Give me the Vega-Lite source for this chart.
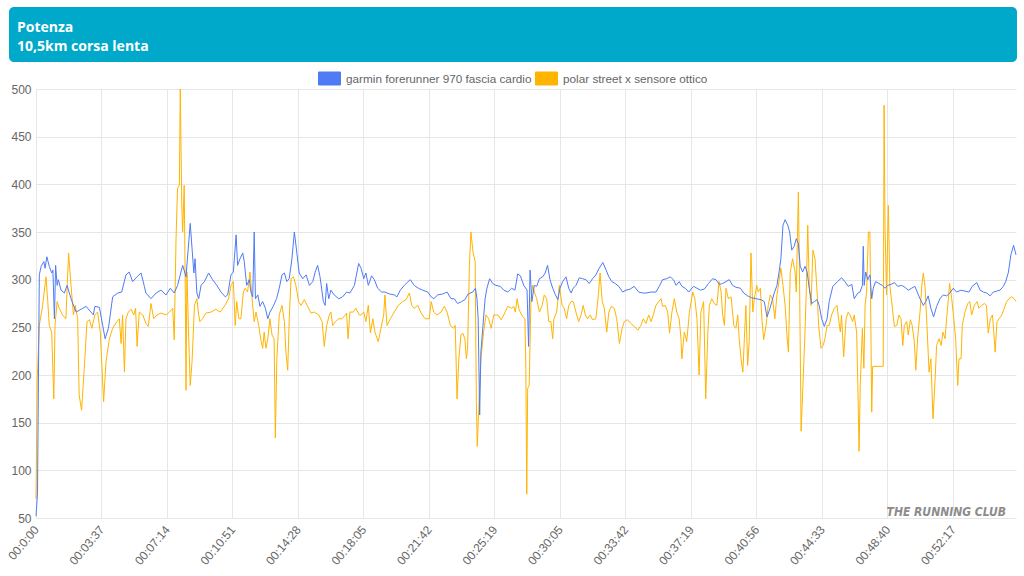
{
  "$schema": "https://vega.github.io/schema/vega-lite/v6.json",
  "background": "white",
  "padding": {"left": 5, "top": 7, "right": 0, "bottom": 0},
  "config": {
    "font": "Liberation Sans",
    "view": {"stroke": null},
    "axis": {"gridColor": "#e6e6e6", "gridWidth": 1, "domain": false, "ticks": false, "tickSize": 0, "labelFont": "Liberation Sans", "labelFontSize": 12, "labelColor": "#666666", "title": null},
    "line": {"strokeWidth": 1}
  },
  "datasets": {
    "garmin": [
{"t":0,"v":52},{"t":5,"v":76},{"t":11,"v":305},{"t":17,"v":314},{"t":26,"v":319},{"t":30,"v":312},{"t":36,"v":324},{"t":44,"v":314},{"t":52,"v":307},{"t":56,"v":310},{"t":61,"v":259},{"t":65,"v":315},{"t":70,"v":294},{"t":74,"v":300},{"t":83,"v":289},{"t":94,"v":286},{"t":103,"v":294},{"t":116,"v":280},{"t":133,"v":266},{"t":149,"v":269},{"t":166,"v":272},{"t":182,"v":266},{"t":190,"v":263},{"t":195,"v":272},{"t":210,"v":271},{"t":221,"v":252},{"t":229,"v":238},{"t":240,"v":249},{"t":254,"v":282},{"t":271,"v":286},{"t":284,"v":287},{"t":298,"v":305},{"t":309,"v":308},{"t":320,"v":298},{"t":335,"v":303},{"t":348,"v":307},{"t":359,"v":293},{"t":364,"v":286},{"t":381,"v":280},{"t":398,"v":286},{"t":414,"v":289},{"t":431,"v":284},{"t":445,"v":291},{"t":458,"v":286},{"t":469,"v":294},{"t":486,"v":315},{"t":497,"v":303},{"t":511,"v":359},{"t":523,"v":307},{"t":527,"v":322},{"t":533,"v":286},{"t":539,"v":280},{"t":547,"v":294},{"t":558,"v":298},{"t":572,"v":307},{"t":585,"v":300},{"t":599,"v":294},{"t":613,"v":287},{"t":627,"v":282},{"t":635,"v":284},{"t":646,"v":305},{"t":654,"v":308},{"t":663,"v":347},{"t":668,"v":315},{"t":676,"v":322},{"t":685,"v":328},{"t":690,"v":319},{"t":698,"v":294},{"t":707,"v":300},{"t":712,"v":287},{"t":718,"v":282},{"t":723,"v":350},{"t":727,"v":280},{"t":735,"v":284},{"t":742,"v":272},{"t":751,"v":277},{"t":760,"v":270},{"t":768,"v":259},{"t":775,"v":266},{"t":786,"v":272},{"t":797,"v":280},{"t":806,"v":291},{"t":815,"v":305},{"t":823,"v":307},{"t":831,"v":298},{"t":839,"v":301},{"t":848,"v":322},{"t":856,"v":350},{"t":864,"v":329},{"t":872,"v":307},{"t":884,"v":301},{"t":895,"v":305},{"t":906,"v":294},{"t":917,"v":298},{"t":925,"v":308},{"t":933,"v":315},{"t":941,"v":303},{"t":948,"v":287},{"t":952,"v":277},{"t":958,"v":273},{"t":963,"v":296},{"t":970,"v":280},{"t":977,"v":289},{"t":988,"v":284},{"t":1003,"v":280},{"t":1016,"v":282},{"t":1029,"v":287},{"t":1040,"v":286},{"t":1055,"v":294},{"t":1069,"v":317},{"t":1077,"v":312},{"t":1086,"v":301},{"t":1093,"v":307},{"t":1101,"v":294},{"t":1112,"v":304},{"t":1121,"v":300},{"t":1132,"v":291},{"t":1145,"v":287},{"t":1156,"v":287},{"t":1171,"v":285},{"t":1187,"v":284},{"t":1196,"v":282},{"t":1207,"v":289},{"t":1220,"v":294},{"t":1240,"v":300},{"t":1253,"v":294},{"t":1267,"v":291},{"t":1281,"v":289},{"t":1298,"v":287},{"t":1309,"v":282},{"t":1318,"v":280},{"t":1331,"v":284},{"t":1348,"v":285},{"t":1362,"v":287},{"t":1375,"v":280},{"t":1386,"v":280},{"t":1397,"v":275},{"t":1410,"v":277},{"t":1421,"v":279},{"t":1432,"v":285},{"t":1447,"v":287},{"t":1456,"v":291},{"t":1461,"v":280},{"t":1465,"v":259},{"t":1470,"v":158},{"t":1474,"v":224},{"t":1481,"v":252},{"t":1488,"v":280},{"t":1494,"v":291},{"t":1503,"v":301},{"t":1513,"v":296},{"t":1524,"v":294},{"t":1538,"v":293},{"t":1550,"v":289},{"t":1563,"v":287},{"t":1576,"v":291},{"t":1587,"v":289},{"t":1596,"v":306},{"t":1605,"v":304},{"t":1616,"v":294},{"t":1627,"v":289},{"t":1632,"v":230},{"t":1637,"v":310},{"t":1643,"v":277},{"t":1651,"v":294},{"t":1659,"v":293},{"t":1668,"v":301},{"t":1679,"v":303},{"t":1687,"v":307},{"t":1695,"v":315},{"t":1703,"v":300},{"t":1712,"v":291},{"t":1721,"v":284},{"t":1729,"v":279},{"t":1736,"v":291},{"t":1745,"v":298},{"t":1756,"v":303},{"t":1765,"v":291},{"t":1773,"v":286},{"t":1780,"v":291},{"t":1789,"v":294},{"t":1800,"v":302},{"t":1811,"v":301},{"t":1822,"v":300},{"t":1833,"v":296},{"t":1844,"v":301},{"t":1855,"v":305},{"t":1866,"v":312},{"t":1878,"v":318},{"t":1889,"v":310},{"t":1898,"v":303},{"t":1908,"v":298},{"t":1919,"v":296},{"t":1931,"v":293},{"t":1944,"v":287},{"t":1955,"v":289},{"t":1968,"v":290},{"t":1982,"v":293},{"t":1997,"v":287},{"t":2010,"v":286},{"t":2021,"v":286},{"t":2038,"v":287},{"t":2054,"v":287},{"t":2065,"v":293},{"t":2076,"v":300},{"t":2090,"v":301},{"t":2101,"v":303},{"t":2112,"v":300},{"t":2121,"v":294},{"t":2131,"v":298},{"t":2140,"v":293},{"t":2151,"v":291},{"t":2163,"v":287},{"t":2170,"v":290},{"t":2179,"v":293},{"t":2190,"v":291},{"t":2201,"v":289},{"t":2214,"v":290},{"t":2228,"v":296},{"t":2242,"v":301},{"t":2253,"v":300},{"t":2264,"v":295},{"t":2275,"v":296},{"t":2286,"v":298},{"t":2297,"v":300},{"t":2308,"v":294},{"t":2319,"v":292},{"t":2334,"v":291},{"t":2345,"v":286},{"t":2358,"v":283},{"t":2371,"v":281},{"t":2386,"v":280},{"t":2402,"v":279},{"t":2413,"v":277},{"t":2422,"v":261},{"t":2430,"v":268},{"t":2438,"v":277},{"t":2446,"v":286},{"t":2455,"v":294},{"t":2463,"v":310},{"t":2468,"v":322},{"t":2475,"v":357},{"t":2482,"v":363},{"t":2491,"v":357},{"t":2497,"v":350},{"t":2504,"v":331},{"t":2512,"v":335},{"t":2519,"v":343},{"t":2526,"v":338},{"t":2532,"v":314},{"t":2540,"v":308},{"t":2548,"v":314},{"t":2555,"v":308},{"t":2562,"v":291},{"t":2570,"v":275},{"t":2579,"v":277},{"t":2588,"v":279},{"t":2595,"v":273},{"t":2603,"v":259},{"t":2612,"v":251},{"t":2621,"v":259},{"t":2628,"v":277},{"t":2640,"v":293},{"t":2656,"v":298},{"t":2669,"v":302},{"t":2680,"v":298},{"t":2691,"v":293},{"t":2703,"v":295},{"t":2711,"v":280},{"t":2723,"v":286},{"t":2730,"v":287},{"t":2738,"v":294},{"t":2741,"v":335},{"t":2744,"v":294},{"t":2749,"v":308},{"t":2756,"v":300},{"t":2763,"v":305},{"t":2769,"v":280},{"t":2774,"v":291},{"t":2782,"v":298},{"t":2793,"v":296},{"t":2804,"v":294},{"t":2813,"v":291},{"t":2822,"v":294},{"t":2833,"v":295},{"t":2844,"v":297},{"t":2855,"v":293},{"t":2868,"v":294},{"t":2879,"v":292},{"t":2890,"v":289},{"t":2901,"v":291},{"t":2912,"v":293},{"t":2921,"v":286},{"t":2929,"v":280},{"t":2940,"v":273},{"t":2948,"v":277},{"t":2956,"v":283},{"t":2965,"v":270},{"t":2974,"v":261},{"t":2984,"v":272},{"t":2995,"v":280},{"t":3006,"v":284},{"t":3017,"v":283},{"t":3028,"v":286},{"t":3039,"v":291},{"t":3050,"v":287},{"t":3065,"v":289},{"t":3078,"v":288},{"t":3091,"v":287},{"t":3102,"v":293},{"t":3117,"v":297},{"t":3128,"v":289},{"t":3139,"v":287},{"t":3150,"v":286},{"t":3161,"v":283},{"t":3172,"v":287},{"t":3183,"v":288},{"t":3194,"v":289},{"t":3205,"v":293},{"t":3213,"v":298},{"t":3222,"v":308},{"t":3230,"v":326},{"t":3239,"v":336},{"t":3247,"v":326}
    ],
    "polar": [
{"t":0,"v":70},{"t":4,"v":195},{"t":11,"v":252},{"t":22,"v":273},{"t":33,"v":303},{"t":39,"v":277},{"t":44,"v":252},{"t":52,"v":245},{"t":59,"v":175},{"t":63,"v":252},{"t":70,"v":277},{"t":77,"v":270},{"t":88,"v":263},{"t":99,"v":259},{"t":108,"v":328},{"t":116,"v":294},{"t":124,"v":263},{"t":130,"v":273},{"t":138,"v":259},{"t":143,"v":179},{"t":151,"v":163},{"t":160,"v":207},{"t":169,"v":256},{"t":177,"v":258},{"t":185,"v":249},{"t":195,"v":263},{"t":204,"v":266},{"t":213,"v":245},{"t":224,"v":172},{"t":232,"v":214},{"t":243,"v":238},{"t":254,"v":249},{"t":268,"v":256},{"t":276,"v":259},{"t":282,"v":233},{"t":287,"v":263},{"t":293,"v":203},{"t":298,"v":259},{"t":306,"v":266},{"t":315,"v":269},{"t":324,"v":263},{"t":330,"v":270},{"t":335,"v":230},{"t":342,"v":266},{"t":354,"v":263},{"t":364,"v":254},{"t":372,"v":251},{"t":381,"v":275},{"t":390,"v":259},{"t":401,"v":263},{"t":414,"v":265},{"t":431,"v":263},{"t":442,"v":266},{"t":453,"v":270},{"t":458,"v":237},{"t":464,"v":343},{"t":469,"v":396},{"t":475,"v":399},{"t":478,"v":500},{"t":483,"v":378},{"t":486,"v":350},{"t":491,"v":399},{"t":495,"v":277},{"t":497,"v":184},{"t":500,"v":308},{"t":506,"v":238},{"t":511,"v":189},{"t":517,"v":214},{"t":525,"v":273},{"t":533,"v":280},{"t":539,"v":263},{"t":543,"v":256},{"t":552,"v":259},{"t":563,"v":265},{"t":580,"v":266},{"t":596,"v":269},{"t":610,"v":266},{"t":624,"v":272},{"t":638,"v":280},{"t":646,"v":294},{"t":654,"v":298},{"t":660,"v":252},{"t":665,"v":277},{"t":672,"v":259},{"t":679,"v":259},{"t":687,"v":287},{"t":693,"v":291},{"t":701,"v":287},{"t":709,"v":308},{"t":716,"v":280},{"t":723,"v":256},{"t":729,"v":266},{"t":738,"v":252},{"t":745,"v":237},{"t":751,"v":228},{"t":756,"v":245},{"t":762,"v":228},{"t":768,"v":238},{"t":775,"v":259},{"t":782,"v":242},{"t":789,"v":238},{"t":793,"v":134},{"t":798,"v":217},{"t":806,"v":263},{"t":815,"v":273},{"t":823,"v":256},{"t":828,"v":224},{"t":834,"v":205},{"t":839,"v":259},{"t":845,"v":301},{"t":853,"v":303},{"t":861,"v":294},{"t":870,"v":277},{"t":878,"v":273},{"t":889,"v":279},{"t":900,"v":272},{"t":911,"v":265},{"t":922,"v":266},{"t":937,"v":263},{"t":948,"v":256},{"t":955,"v":230},{"t":963,"v":252},{"t":972,"v":263},{"t":977,"v":266},{"t":983,"v":252},{"t":992,"v":256},{"t":1003,"v":259},{"t":1014,"v":259},{"t":1025,"v":263},{"t":1029,"v":265},{"t":1034,"v":238},{"t":1040,"v":266},{"t":1051,"v":266},{"t":1060,"v":270},{"t":1071,"v":263},{"t":1077,"v":263},{"t":1086,"v":266},{"t":1093,"v":256},{"t":1101,"v":273},{"t":1108,"v":244},{"t":1116,"v":259},{"t":1123,"v":245},{"t":1134,"v":235},{"t":1143,"v":249},{"t":1152,"v":263},{"t":1156,"v":284},{"t":1163,"v":252},{"t":1174,"v":259},{"t":1187,"v":266},{"t":1200,"v":273},{"t":1215,"v":277},{"t":1226,"v":279},{"t":1237,"v":286},{"t":1245,"v":273},{"t":1253,"v":270},{"t":1265,"v":273},{"t":1276,"v":265},{"t":1289,"v":259},{"t":1303,"v":259},{"t":1309,"v":277},{"t":1318,"v":266},{"t":1328,"v":263},{"t":1342,"v":266},{"t":1353,"v":272},{"t":1362,"v":266},{"t":1373,"v":252},{"t":1384,"v":249},{"t":1389,"v":252},{"t":1395,"v":175},{"t":1401,"v":217},{"t":1408,"v":242},{"t":1414,"v":244},{"t":1421,"v":238},{"t":1426,"v":217},{"t":1430,"v":228},{"t":1436,"v":315},{"t":1441,"v":350},{"t":1448,"v":329},{"t":1455,"v":319},{"t":1459,"v":172},{"t":1462,"v":125},{"t":1468,"v":172},{"t":1474,"v":217},{"t":1483,"v":245},{"t":1491,"v":263},{"t":1500,"v":259},{"t":1508,"v":249},{"t":1517,"v":263},{"t":1530,"v":263},{"t":1541,"v":258},{"t":1550,"v":263},{"t":1563,"v":272},{"t":1576,"v":270},{"t":1583,"v":272},{"t":1588,"v":266},{"t":1594,"v":280},{"t":1601,"v":268},{"t":1613,"v":261},{"t":1620,"v":259},{"t":1623,"v":207},{"t":1626,"v":75},{"t":1629,"v":186},{"t":1634,"v":189},{"t":1640,"v":280},{"t":1646,"v":294},{"t":1651,"v":287},{"t":1659,"v":280},{"t":1668,"v":266},{"t":1677,"v":273},{"t":1684,"v":284},{"t":1692,"v":280},{"t":1699,"v":256},{"t":1706,"v":256},{"t":1712,"v":238},{"t":1716,"v":259},{"t":1725,"v":266},{"t":1734,"v":294},{"t":1743,"v":273},{"t":1750,"v":270},{"t":1758,"v":259},{"t":1765,"v":273},{"t":1773,"v":277},{"t":1780,"v":277},{"t":1789,"v":266},{"t":1798,"v":256},{"t":1806,"v":263},{"t":1813,"v":273},{"t":1820,"v":263},{"t":1828,"v":259},{"t":1836,"v":263},{"t":1844,"v":258},{"t":1855,"v":259},{"t":1862,"v":280},{"t":1869,"v":307},{"t":1876,"v":277},{"t":1883,"v":270},{"t":1891,"v":245},{"t":1898,"v":266},{"t":1906,"v":272},{"t":1916,"v":270},{"t":1924,"v":259},{"t":1933,"v":233},{"t":1942,"v":249},{"t":1949,"v":256},{"t":1960,"v":258},{"t":1971,"v":254},{"t":1982,"v":251},{"t":1994,"v":247},{"t":2004,"v":252},{"t":2012,"v":259},{"t":2021,"v":254},{"t":2030,"v":263},{"t":2038,"v":256},{"t":2045,"v":263},{"t":2054,"v":273},{"t":2063,"v":277},{"t":2071,"v":280},{"t":2076,"v":272},{"t":2085,"v":273},{"t":2093,"v":266},{"t":2099,"v":244},{"t":2107,"v":266},{"t":2115,"v":280},{"t":2123,"v":266},{"t":2131,"v":259},{"t":2137,"v":238},{"t":2140,"v":217},{"t":2148,"v":245},{"t":2156,"v":235},{"t":2165,"v":266},{"t":2176,"v":287},{"t":2183,"v":280},{"t":2190,"v":259},{"t":2197,"v":200},{"t":2203,"v":266},{"t":2212,"v":277},{"t":2219,"v":175},{"t":2226,"v":245},{"t":2231,"v":273},{"t":2239,"v":280},{"t":2247,"v":275},{"t":2256,"v":273},{"t":2263,"v":298},{"t":2270,"v":287},{"t":2275,"v":263},{"t":2281,"v":252},{"t":2286,"v":291},{"t":2294,"v":280},{"t":2303,"v":282},{"t":2312,"v":252},{"t":2319,"v":249},{"t":2325,"v":263},{"t":2330,"v":238},{"t":2336,"v":217},{"t":2342,"v":203},{"t":2347,"v":238},{"t":2352,"v":273},{"t":2358,"v":210},{"t":2363,"v":235},{"t":2369,"v":328},{"t":2375,"v":266},{"t":2380,"v":280},{"t":2388,"v":294},{"t":2393,"v":287},{"t":2400,"v":291},{"t":2405,"v":259},{"t":2411,"v":237},{"t":2419,"v":252},{"t":2426,"v":273},{"t":2433,"v":284},{"t":2441,"v":279},{"t":2448,"v":259},{"t":2455,"v":284},{"t":2463,"v":301},{"t":2468,"v":312},{"t":2475,"v":294},{"t":2482,"v":273},{"t":2488,"v":242},{"t":2493,"v":224},{"t":2499,"v":308},{"t":2507,"v":322},{"t":2515,"v":308},{"t":2519,"v":287},{"t":2526,"v":392},{"t":2530,"v":294},{"t":2535,"v":141},{"t":2541,"v":189},{"t":2548,"v":245},{"t":2552,"v":287},{"t":2557,"v":357},{"t":2562,"v":294},{"t":2568,"v":273},{"t":2574,"v":331},{"t":2581,"v":322},{"t":2588,"v":287},{"t":2593,"v":252},{"t":2601,"v":228},{"t":2608,"v":231},{"t":2614,"v":238},{"t":2621,"v":252},{"t":2628,"v":252},{"t":2636,"v":263},{"t":2645,"v":270},{"t":2654,"v":273},{"t":2659,"v":259},{"t":2665,"v":245},{"t":2669,"v":263},{"t":2676,"v":219},{"t":2684,"v":259},{"t":2691,"v":266},{"t":2697,"v":263},{"t":2706,"v":256},{"t":2711,"v":263},{"t":2719,"v":245},{"t":2723,"v":189},{"t":2727,"v":120},{"t":2731,"v":189},{"t":2738,"v":249},{"t":2743,"v":207},{"t":2747,"v":273},{"t":2752,"v":287},{"t":2758,"v":350},{"t":2763,"v":350},{"t":2767,"v":224},{"t":2769,"v":161},{"t":2772,"v":209},{"t":2807,"v":209},{"t":2810,"v":483},{"t":2813,"v":357},{"t":2818,"v":284},{"t":2824,"v":378},{"t":2829,"v":294},{"t":2835,"v":277},{"t":2844,"v":251},{"t":2852,"v":252},{"t":2859,"v":263},{"t":2866,"v":259},{"t":2872,"v":231},{"t":2877,"v":252},{"t":2885,"v":256},{"t":2890,"v":242},{"t":2897,"v":258},{"t":2903,"v":252},{"t":2910,"v":235},{"t":2915,"v":205},{"t":2921,"v":238},{"t":2929,"v":266},{"t":2935,"v":294},{"t":2940,"v":307},{"t":2946,"v":291},{"t":2952,"v":252},{"t":2959,"v":203},{"t":2965,"v":217},{"t":2972,"v":154},{"t":2979,"v":196},{"t":2984,"v":231},{"t":2992,"v":238},{"t":2999,"v":231},{"t":3005,"v":245},{"t":3012,"v":238},{"t":3017,"v":259},{"t":3023,"v":280},{"t":3027,"v":296},{"t":3034,"v":280},{"t":3041,"v":259},{"t":3047,"v":238},{"t":3054,"v":189},{"t":3058,"v":217},{"t":3065,"v":217},{"t":3069,"v":252},{"t":3078,"v":266},{"t":3087,"v":275},{"t":3094,"v":277},{"t":3100,"v":263},{"t":3109,"v":273},{"t":3118,"v":277},{"t":3124,"v":270},{"t":3133,"v":273},{"t":3142,"v":275},{"t":3149,"v":273},{"t":3155,"v":244},{"t":3162,"v":259},{"t":3169,"v":263},{"t":3175,"v":238},{"t":3178,"v":224},{"t":3184,"v":256},{"t":3191,"v":259},{"t":3200,"v":263},{"t":3208,"v":270},{"t":3216,"v":277},{"t":3224,"v":280},{"t":3233,"v":282},{"t":3241,"v":280},{"t":3247,"v":277}
    ]
  },
  "concat": [
    {
      "width": 1008,
      "height": 55,
      "view": {"fill": "#00a9c9", "stroke": null, "cornerRadius": 5},
      "title": {"text": ["Potenza", "10,5km corsa lenta"], "orient": "top", "anchor": "start", "frame": "group", "offset": -58, "dx": 8, "baseline": "alphabetic", "color": "white", "font": "Open Sans", "fontSize": 14, "fontWeight": "bold", "lineHeight": 19},
      "data": {"values": [{}]},
      "mark": {"type": "text", "text": ""}
    },
    {
      "width": 1007,
      "height": 429,
      "title": {"text": "THE RUNNING CLUB", "orient": "top", "anchor": "end", "frame": "group", "offset": -445, "dx": -10, "baseline": "alphabetic", "color": "#8c8c8c", "font": "Liberation Sans Narrow, DejaVu Sans Condensed, Liberation Sans", "fontSize": 12, "fontStyle": "italic", "fontWeight": "bold"},
      "layer": [
        {
          "data": {"values": []},
          "mark": {"type": "point", "filled": true, "shape": "M-1,-0.59H1V0.59H-1Z", "size": 484, "opacity": 1},
          "encoding": {
            "color": {
              "datum": "garmin forerunner 970 fascia cardio", "type": "nominal",
              "scale": {"domain": ["garmin forerunner 970 fascia cardio", "polar street x sensore ottico"], "range": ["#4f7bf4", "#ffb400"]},
              "legend": {
                "title": null, "orient": "none", "direction": "horizontal", "legendX": 309, "legendY": 60,
                "labelFont": "Liberation Sans", "labelFontSize": 11.75, "labelColor": "#666666", "labelLimit": 400,
                "symbolType": "M-1,-0.59H1V0.59H-1Z", "symbolSize": 484, "symbolStrokeWidth": 0, "symbolOpacity": 1,
                "labelOffset": 5, "columnPadding": 1
              }
            }
          }
        },
        {
          "data": {"name": "polar"},
          "mark": {"type": "line", "strokeWidth": 1},
          "encoding": {
            "x": {"field": "t", "type": "quantitative"},
            "y": {"field": "v", "type": "quantitative"},
            "color": {"datum": "polar street x sensore ottico", "type": "nominal"}
          }
        },
        {
          "data": {"name": "garmin"},
          "mark": {"type": "line", "strokeWidth": 1},
          "encoding": {
            "x": {
              "field": "t", "type": "quantitative",
              "scale": {"domain": [0, 3247], "range": [27, 1007], "nice": false, "zero": false},
              "axis": {
                "values": [0, 217, 434, 651, 868, 1085, 1302, 1519, 1736, 1953, 2170, 2387, 2604, 2821, 3038],
                "labelExpr": "['00:0:00','00:03:37','00:07:14','00:10:51','00:14:28','00:18:05','00:21:42','00:25:19','00:30:05','00:33:42','00:37:19','00:40:56','00:44:33','00:48:40','00:52:17'][round(datum.value/217)]",
                "labelAngle": -50, "labelAlign": "right", "labelBaseline": "middle", "labelPadding": 9,
                "labelOverlap": false, "labelFlush": false, "grid": true
              }
            },
            "y": {
              "field": "v", "type": "quantitative",
              "scale": {"domain": [50, 500], "nice": false, "zero": false},
              "axis": {"values": [50, 100, 150, 200, 250, 300, 350, 400, 450, 500], "labelPadding": 5, "grid": true, "offset": -27}
            },
            "color": {"datum": "garmin forerunner 970 fascia cardio", "type": "nominal"}
          }
        }
      ]
    }
  ],
  "columns": 1,
  "spacing": 21
}
